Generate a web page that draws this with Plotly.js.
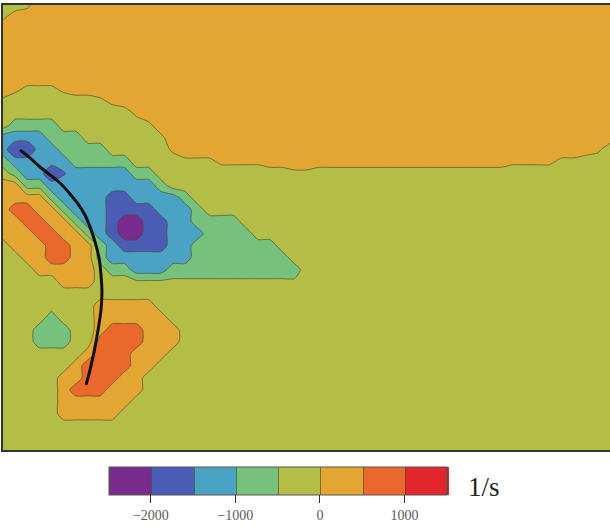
<!DOCTYPE html>
<html>
<head>
<meta charset="utf-8">
<script src="https://cdn.plot.ly/plotly-3.0.1.min.js"></script>
<style>
  html, body { margin: 0; padding: 0; background: #ffffff; }
  #chart { width: 610px; height: 532px; }
</style>
</head>
<body>
<div id="chart"></div>
<script>
// Vorticity field (1/s) sampled on a 51 x 38 node grid, top row first.
// Each row is run-length coded: "3y" = three nodes of value y, "O" = one node.
// The letters are looked up in levelValues.
const levelValues = {
  p: -2250, B: -1980, b: -1750, c: -1550, t: -1250, g: -750, h: -420,
  y: -250, Y: -100, O: 100, o: 250, r: 750
};

const vorticityRows = [
  "2y Y 48o",
  "Y 50o",
  "51o",
  "51o",
  "51o",
  "51o",
  "51o",
  "o O 3Y O 45o",
  "Y 7y Y O 41o",
  "11y O 39o",
  "y 4g 7y Y 38o",
  "4t 3g 6y Y 37o",
  "t 2B 2t 4g 5y O 34o O y",
  "g 5t 5g 4y 3Y 4O 20o 4O 2Y 3y",
  "y g 2t B c 5t 2g 11y 2Y 25y",
  "2o 2g 9t g 37y",
  "4o g 4t 2b 4t g 35y",
  "o 2r 2o g 3t 4b 3t g 34y",
  "2o 2r 2o g 2t b 2p 2b 2t 4g 31y",
  "3o 2r 2o g t b 2p 2b 3t 4g 30y",
  "y 3o 2r 2o g t 4b 2t 7g 28y",
  "2y 2o 2r 2o g 7t 8g 27y",
  "3y 5o y 2g 3t 11g 26y",
  "5y 3o 3y 14h 26y",
  "51y",
  "8y 5o 38y",
  "4y g 3y 6o 37y",
  "3y 3g 2y o 3r 3o 36y",
  "3y 3g 2y 4r 3o 36y",
  "7y o 3r 3o 37y",
  "6y o 4r 2o 38y",
  "5y 2o 3r 2o 39y",
  "5y o 3r 3o 39y",
  "5y 6o 40y",
  "5y 5o 41y",
  "51y",
  "51y",
  "51y"
];

// Vortex filament centreline, in grid units
const curveX = [1.40, 2.22, 3.05, 3.87, 4.70, 5.52, 6.18, 6.75, 7.17, 7.58,
                7.91, 8.07, 8.15, 8.07, 7.83, 7.50, 7.17, 6.84];
const curveY = [12.05, 12.72, 13.47, 14.13, 14.80, 15.71, 16.54, 17.46, 18.45, 19.70,
                21.03, 22.44, 23.86, 25.35, 27.02, 28.84, 30.34, 31.59];

// Colour of each 500 1/s band, from -2500 up to 1500
const bandColors = ['#7a2c8e', '#4a5cb4', '#4aa2c4', '#76c27c',
                    '#b4bd46', '#e4a633', '#ea682c', '#e2262c'];
const colorbarTicks = [-2000, -1000, 0, 1000];
const unitLabel = '1/s';

function decodeRow(code) {
  const out = [];
  code.trim().split(/\s+/).forEach(tok => {
    const m = tok.match(/^(\d*)([A-Za-z])$/);
    const n = m[1] ? parseInt(m[1], 10) : 1;
    for (let i = 0; i < n; i++) out.push(levelValues[m[2]]);
  });
  return out;
}

const zGrid = vorticityRows.map(decodeRow);
const nCols = zGrid[0].length;
const nRows = zGrid.length;
const xNodes = Array.from({length: nCols}, (_, i) => i);
const yNodes = Array.from({length: nRows}, (_, j) => j);

// piecewise-constant colour scale, one flat step per band
const stops = [0, 0.15, 0.27, 0.39, 0.5, 0.61, 0.73, 0.85, 1];
const colorscale = [];
bandColors.forEach((c, k) => {
  colorscale.push([stops[k], c]);
  colorscale.push([stops[k + 1], c]);
});

const field = {
  type: 'contour',
  x: xNodes,
  y: yNodes,
  z: zGrid,
  zmin: -2500,
  zmax: 1500,
  colorscale: colorscale,
  autocontour: false,
  contours: { start: -2500, end: 1500, size: 500, coloring: 'fill', showlines: true },
  line: { color: 'rgba(70,75,45,0.65)', width: 1, smoothing: 0.6 },
  hoverinfo: 'skip',
  colorbar: {
    orientation: 'h',
    thickness: 28, thicknessmode: 'pixels',
    len: 338, lenmode: 'pixels',
    xref: 'container', yref: 'container',
    x: 279 / 610, xanchor: 'center',
    y: (532 - 467) / 532, yanchor: 'top',
    xpad: 0, ypad: 0,
    outlinewidth: 1, outlinecolor: '#555',
    tickmode: 'array', tickvals: colorbarTicks,
    ticks: 'outside', ticklen: 8, tickwidth: 1, tickcolor: '#333',
    tickfont: { family: 'Liberation Serif', size: 14, color: '#5a5a5a' }
  }
};

const filament = {
  type: 'scatter',
  mode: 'lines',
  x: curveX,
  y: curveY,
  line: { color: '#111', width: 3, shape: 'spline' },
  hoverinfo: 'skip',
  showlegend: false
};

const layout = {
  width: 610, height: 532,
  margin: { l: 3, r: 0, t: 5, b: 82 },
  paper_bgcolor: '#ffffff',
  plot_bgcolor: '#ffffff',
  showlegend: false,
  xaxis: { range: [0, nCols - 1], showgrid: false, zeroline: false, showticklabels: false, ticks: '',
           showline: true, mirror: true, linecolor: '#333', linewidth: 2 },
  yaxis: { range: [nRows - 1, 0], showgrid: false, zeroline: false, showticklabels: false, ticks: '',
           showline: true, mirror: false, linecolor: '#333', linewidth: 2 },
  annotations: [{
    text: unitLabel,
    xref: 'paper', yref: 'paper',
    x: (466 - 3) / 607, xanchor: 'left',
    y: (450 - 487) / 445, yanchor: 'middle',
    showarrow: false,
    font: { family: 'Liberation Serif', size: 27, color: '#222' }
  }]
};

Plotly.newPlot('chart', [field, filament], layout, { displayModeBar: false, staticPlot: true });
</script>
</body>
</html>
